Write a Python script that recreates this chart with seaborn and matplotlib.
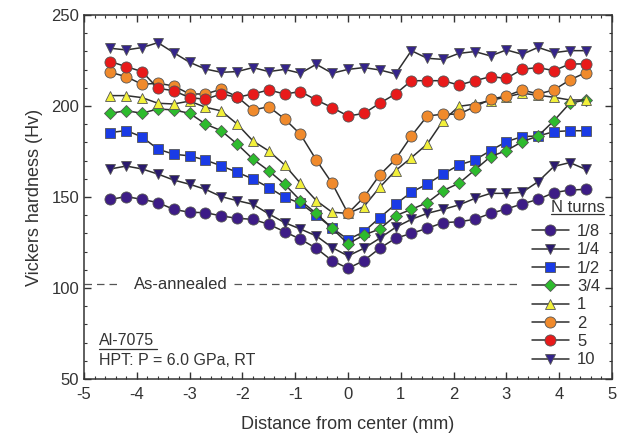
import numpy as np
import pandas as pd
import matplotlib
matplotlib.use('Agg')
import matplotlib.pyplot as plt
import seaborn as sns
from matplotlib.ticker import MultipleLocator

# Positions across the disk (mm)
distance = [round(-4.5 + 0.3 * i, 1) for i in range(31)]

turns = ['1/8', '1/4', '1/2', '3/4', '1', '2', '5', '10']

hv_1_8 = [148.7, 150.2, 148.7, 146.9, 143.2, 141.6, 141.4, 139.6, 138.3, 137.7, 135.0,
          130.9, 126.8, 121.8, 115.0, 110.8, 115.0, 121.8, 127.3, 130.0, 132.8, 135.9,
          136.4, 137.7, 141.0, 143.4, 146.2, 148.7, 152.4, 153.8, 154.2]
hv_1_4 = [165.4, 167.0, 165.4, 162.6, 159.3, 157.0, 154.2, 150.2, 148.0, 146.0, 140.7,
          135.9, 132.4, 128.6, 122.2, 117.6, 121.8, 127.3, 133.3, 137.7, 141.0, 143.2,
          145.6, 149.2, 152.0, 152.0, 152.6, 158.4, 166.8, 168.9, 165.2]
hv_1_2 = [185.4, 186.5, 183.0, 176.3, 173.5, 172.6, 170.3, 167.1, 163.6, 159.9, 155.2,
          149.9, 146.5, 140.0, 133.0, 126.6, 130.9, 138.6, 146.0, 152.6, 157.1, 162.6,
          167.6, 170.3, 175.5, 180.4, 183.2, 183.5, 185.9, 186.4, 186.4]
hv_3_4 = [196.0, 197.4, 196.0, 198.4, 197.8, 196.0, 190.1, 186.4, 179.1, 170.8, 164.4,
          157.0, 148.0, 141.0, 132.8, 124.2, 129.1, 132.4, 139.7, 143.2, 146.9, 153.5,
          157.5, 164.8, 172.2, 175.5, 180.4, 183.5, 191.9, 201.5, 203.3]
hv_1 = [205.7, 205.7, 204.6, 201.5, 201.1, 202.7, 199.3, 197.3, 190.1, 180.8, 175.3,
        167.6, 157.5, 148.0, 141.6, 141.0, 144.7, 155.3, 164.5, 171.6, 179.1, 191.9,
        199.8, 201.0, 203.0, 205.0, 207.0, 205.9, 204.8, 203.3, 203.3]
hv_2 = [218.5, 216.1, 211.9, 212.5, 211.0, 206.6, 206.6, 209.2, 205.1, 197.8, 199.6,
        192.9, 184.4, 170.3, 157.5, 141.0, 149.8, 162.1, 170.7, 183.5, 194.5, 195.5,
        195.5, 199.6, 203.7, 205.5, 208.8, 206.6, 208.8, 214.3, 218.3]
hv_5 = [224.4, 221.6, 218.9, 209.7, 208.4, 204.6, 203.7, 206.6, 204.8, 206.6, 208.8,
        206.6, 207.9, 203.3, 199.1, 194.5, 195.9, 201.5, 206.6, 213.9, 213.9, 213.9,
        211.5, 213.9, 216.1, 215.2, 220.2, 221.1, 219.4, 223.1, 223.1]
hv_10 = [231.7, 230.8, 232.1, 234.8, 229.3, 224.0, 220.3, 218.5, 218.9, 221.1, 218.9,
         220.1, 218.0, 222.9, 218.0, 220.1, 221.1, 219.8, 217.6, 230.4, 226.2, 225.6,
         228.9, 229.9, 227.5, 230.8, 228.4, 232.2, 229.3, 230.4, 230.4]

annealed_hv = 102

series = [hv_1_8, hv_1_4, hv_1_2, hv_3_4, hv_1, hv_2, hv_5, hv_10]
colors = ['#3d1c86', '#2a1a6e', '#1a3be6', '#2dbb2d', '#f2f03a', '#f08a2c', '#e81a1a', '#34248a']
markers = ['o', 'v', 's', 'D', '^', 'o', 'o', 'v']
sizes = [8, 7.5, 7, 6, 7.5, 8, 8, 7.5]

df = pd.DataFrame({
    'distance': distance * len(turns),
    'hv': np.concatenate(series),
    'N': np.repeat(turns, len(distance)),
})

sns.set_style('ticks')
plt.rcParams['font.family'] = ['Liberation Sans', 'DejaVu Sans']
plt.rcParams['axes.unicode_minus'] = False
text_color = '#333333'

fig = plt.figure(figsize=(6.29, 4.38), dpi=100)
ax = fig.add_axes([0.1335, 0.1347, 0.8395, 0.8311])

for n, c, m, s in zip(turns, colors, markers, sizes):
    sub = df[df['N'] == n]
    sns.lineplot(data=sub, x='distance', y='hv', ax=ax, color='#2e2e2e', lw=1.1,
                 marker=m, markersize=s, markerfacecolor=c, markeredgecolor='#555555',
                 markeredgewidth=0.6, label=n, errorbar=None)

# As-annealed reference line
ax.plot([-5, -4.3], [annealed_hv, annealed_hv], color='#555555', lw=0.9, dashes=(6, 4))
ax.plot([-2.15, 3.2], [annealed_hv, annealed_hv], color='#555555', lw=0.9, dashes=(6, 4))
ax.text(-3.16, annealed_hv, 'As-annealed', ha='center', va='center', fontsize=12, color=text_color)

# Sample info
ax.text(-4.72, 71, 'Al-7075', fontsize=11.5, color=text_color, va='center')
ax.plot([-4.72, -3.62], [66.3, 66.3], color=text_color, lw=0.9)
ax.text(-4.72, 60, 'HPT: P = 6.0 GPa, RT', fontsize=11.5, color=text_color, va='center')

ax.set_xlim(-5, 5)
ax.set_ylim(50, 250)
ax.xaxis.set_major_locator(MultipleLocator(1))
ax.xaxis.set_minor_locator(MultipleLocator(0.2))
ax.yaxis.set_major_locator(MultipleLocator(50))
ax.yaxis.set_minor_locator(MultipleLocator(10))
ax.tick_params(which='both', direction='in', top=True, right=True, colors='#333333',
               labelsize=12, labelcolor=text_color)
ax.tick_params(which='major', length=5, width=1)
ax.tick_params(which='minor', length=2.5, width=0.8)
ax.tick_params(axis='x', pad=6)
for sp in ax.spines.values():
    sp.set_color('#333333')
    sp.set_linewidth(1.1)

ax.set_xlabel('Distance from center (mm)', fontsize=13, color=text_color, labelpad=10)
ax.set_ylabel('Vickers hardness (Hv)', fontsize=13, color=text_color, labelpad=6)

leg = ax.legend(loc='lower right', bbox_to_anchor=(1.0, 0.0), frameon=False, fontsize=12,
                handlelength=2.2, handletextpad=0.5, labelspacing=0.2, borderaxespad=0.3)
for t in leg.get_texts():
    t.set_color(text_color)

ax.text(0.935, 0.4725, 'N turns', transform=ax.transAxes, ha='center', va='center',
        fontsize=12, color=text_color)
ax.plot([0.885, 0.985], [0.452, 0.452], transform=ax.transAxes, color=text_color, lw=0.9,
        clip_on=False)

fig.savefig('out.png', dpi=100)
